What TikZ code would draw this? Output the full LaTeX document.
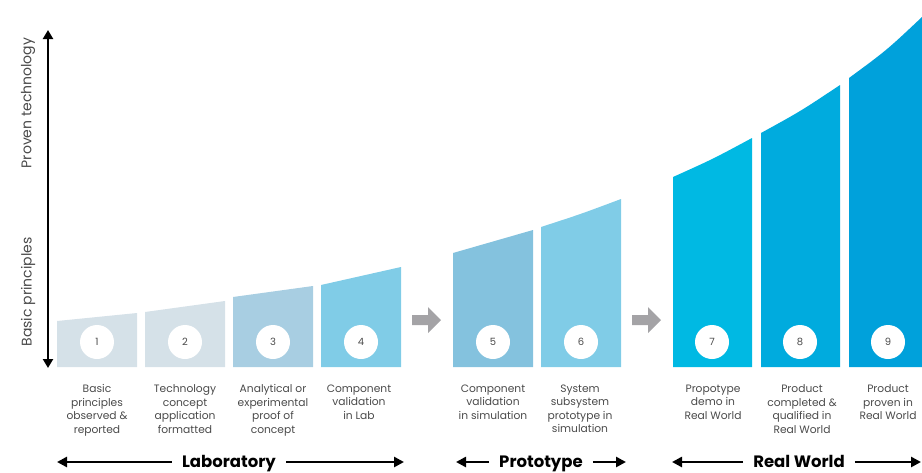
\documentclass[tikz,border=0pt]{standalone}
\usepackage{fontspec}
\setmainfont{Poppins}
\usetikzlibrary{arrows.meta}
\definecolor{cA}{HTML}{D5E1E8}
\definecolor{cB}{HTML}{A8CEE2}
\definecolor{cC}{HTML}{80CCE7}
\definecolor{cD}{HTML}{84C2DE}
\definecolor{cE}{HTML}{00B9E3}
\definecolor{cF}{HTML}{00ABDE}
\definecolor{cG}{HTML}{00A1DB}
\definecolor{garrow}{HTML}{A4A3A6}
\definecolor{txt}{HTML}{4A4A4A}
\begin{document}
\begin{tikzpicture}[x=1pt,y=-1pt,
  num/.style={circle,fill=white,minimum size=34pt,inner sep=0pt,text=txt,font=\fontsize{10}{12}\selectfont},
  lab/.style={anchor=north,align=center,inner sep=0pt,text=txt,font=\fontsize{10.7}{13.5}\selectfont},
  grp/.style={anchor=base,inner sep=0pt,font=\fontsize{16.5}{19}\selectfont\bfseries,text=black},
  barrow/.style={line width=2.8pt,-{Triangle[length=10pt,width=10pt]}},
  axlab/.style={rotate=90,inner sep=0pt,text=txt,font=\fontsize{14}{16}\selectfont}]
\useasboundingbox (0,0) rectangle (922,472);
% bars
\fill[cA] (57,367) -- (57,321) -- (137,313) -- (137,367) -- cycle;
\fill[cA] (145,367) -- (145,312) -- (225,301) -- (225,367) -- cycle;
\fill[cB] (233,367) -- (233,297) -- (313,286) -- (313,367) -- cycle;
\fill[cC] (321,367) -- (321,285) -- (401,267) -- (401,367) -- cycle;
\fill[cD] (453,367) -- (453,253) .. controls (493,241) .. (533,230) -- (533,367) -- cycle;
\fill[cC] (541,367) -- (541,227) .. controls (581,214) .. (621,199) -- (621,367) -- cycle;
\fill[cE] (673,367) -- (673,177) .. controls (713,159) .. (752,138) -- (752,367) -- cycle;
\fill[cF] (761,367) -- (761,133) .. controls (801,111) .. (840,85) -- (840,367) -- cycle;
\fill[cG] (849,367) -- (849,78) .. controls (887,50) .. (922,17) -- (922,367) -- cycle;
% gray arrows
\fill[garrow] (412,315) -- (428,315) -- (428,307) -- (441,320) -- (428,333) -- (428,325) -- (412,325) -- cycle;
\fill[garrow] (632,315) -- (648,315) -- (648,307) -- (661,320) -- (648,333) -- (648,325) -- (632,325) -- cycle;
% circles
\node[num] (n1) at (97,342) {1};
\node[num] (n2) at (185,342) {2};
\node[num] (n3) at (273,342) {3};
\node[num] (n4) at (361,342) {4};
\node[num] (n5) at (493,342) {5};
\node[num] (n6) at (581,342) {6};
\node[num] (n7) at (712,342) {7};
\node[num] (n8) at (800,342) {8};
\node[num] (n9) at (888,342) {9};
% labels
\node[lab] (l1) at (97,384.5) {Basic\\principles\\observed \&\\reported};
\node[lab] (l2) at (185,384.5) {Technology\\concept\\application\\formatted};
\node[lab] (l3) at (273,384.5) {Analytical or\\experimental\\proof of\\concept};
\node[lab] (l4) at (359,384.5) {Component\\validation\\in Lab};
\node[lab] (l5) at (493,384.5) {Component\\validation\\in simulation};
\node[lab] (l6) at (580,384.5) {System\\subsystem\\prototype in\\simulation};
\node[lab] (l7) at (713,384.5) {Propotype\\demo in\\Real World};
\node[lab] (l8) at (802,384.5) {Product\\completed \&\\qualified in\\Real World};
\node[lab] (l9) at (888,384.5) {Product\\proven in\\Real World};
% axis
\coordinate (axT) at (48,30);
\coordinate (axB) at (48,368);
\draw[line width=2.8pt,{Triangle[length=9pt,width=10pt]}-{Triangle[length=9pt,width=10pt]}] (axB) -- (axT);
\node[axlab] (pt) at (28,103) {Proven technology};
\node[axlab] (bp) at (28,292) {Basic principles};
% group arrows
\node[grp] (gL) at (229,467) {Laboratory};
\coordinate (gL1) at (57,462);
\coordinate (gL2) at (404,462);
\draw[barrow] ([xshift=-10pt]gL.west|-gL1) -- (gL1);
\draw[barrow] ([xshift=10pt]gL.east|-gL2) -- (gL2);
\node[grp] (gP) at (541,467) {Prototype};
\coordinate (gP1) at (456,462);
\coordinate (gP2) at (626,462);
\draw[barrow] ([xshift=-10pt]gP.west|-gP1) -- (gP1);
\draw[barrow] ([xshift=10pt]gP.east|-gP2) -- (gP2);
\node[grp] (gR) at (799,467) {Real World};
\coordinate (gR1) at (672,462);
\coordinate (gR2) at (921,462);
\draw[barrow] ([xshift=-10pt]gR.west|-gR1) -- (gR1);
\draw[barrow] ([xshift=10pt]gR.east|-gR2) -- (gR2);
\end{tikzpicture}
\end{document}
